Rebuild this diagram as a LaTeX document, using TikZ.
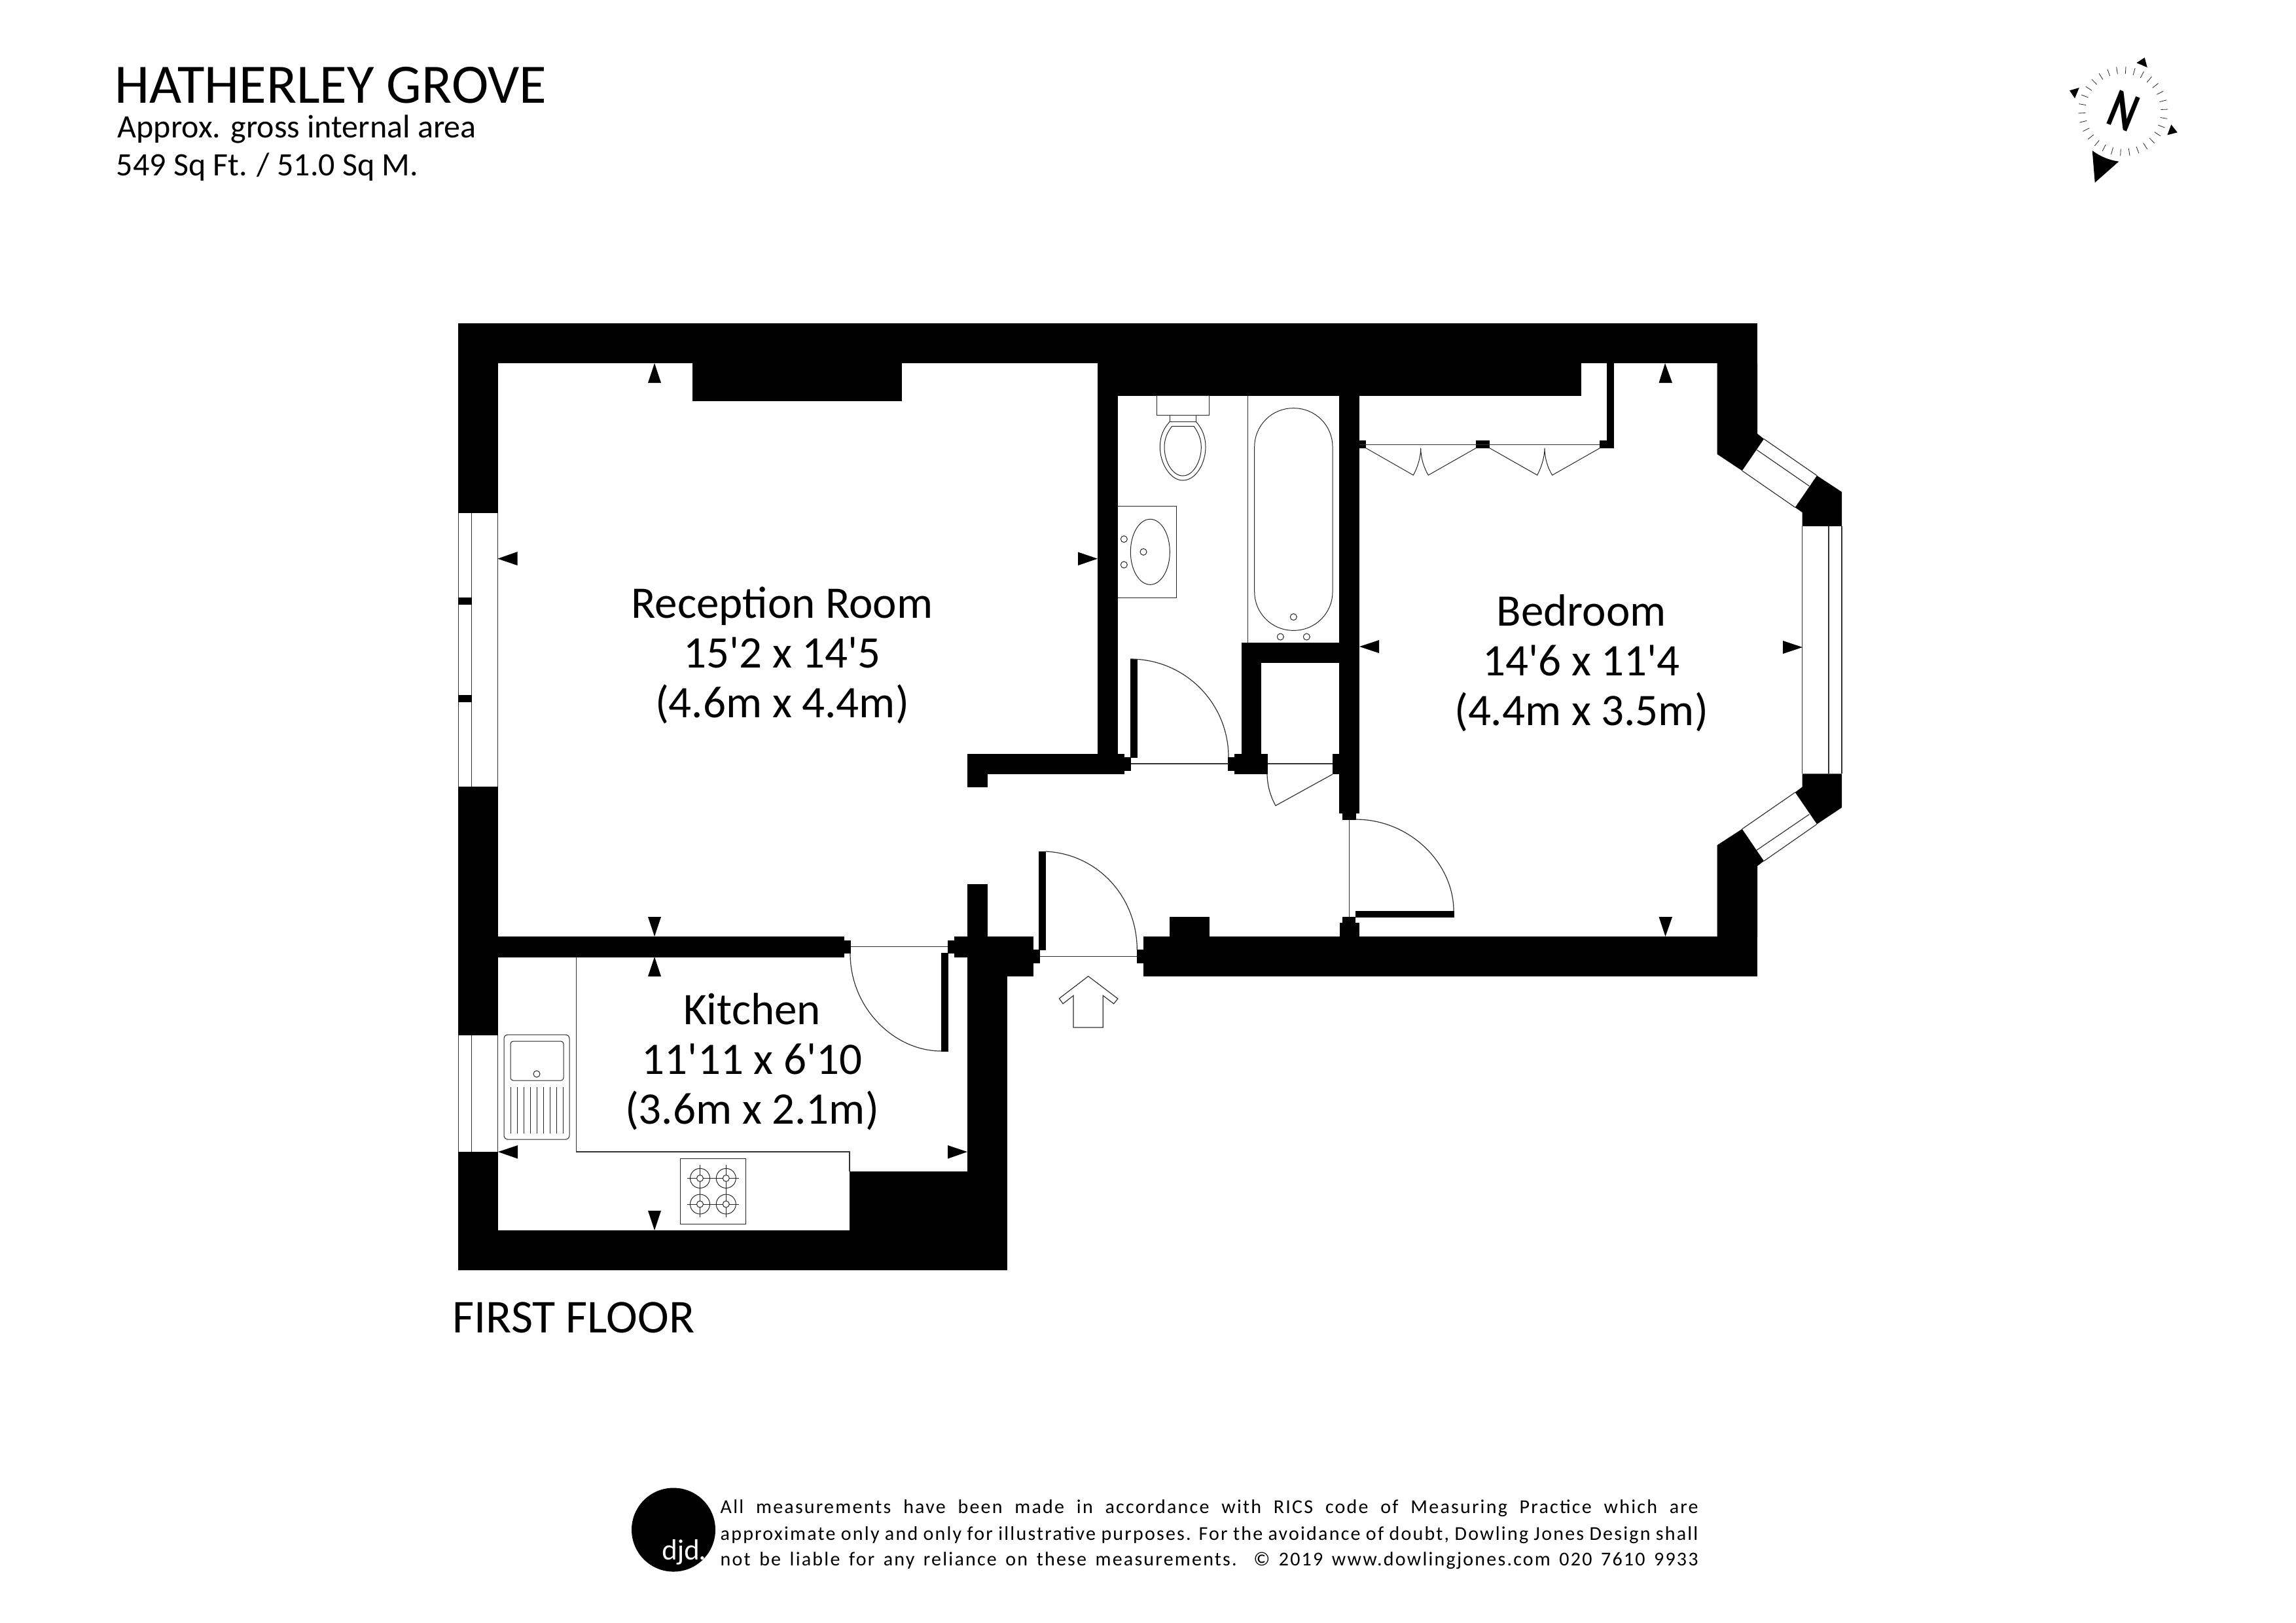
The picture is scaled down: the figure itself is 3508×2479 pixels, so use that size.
\documentclass[tikz,border=0pt]{standalone}
\usepackage{fontspec}
\usetikzlibrary{calc}
\setmainfont{Carlito}
\newfontfamily\labelfont{Carlito}
\newfontfamily\footfont[LetterSpace=7.4]{Carlito}
\newfontfamily\logofont{Lato}
\tikzset{
  wall/.style={fill=black,draw=none},
  thin line/.style={draw=black!80,line width=0.12mm,fill=none},
  fixture/.style={draw=black!85,line width=0.1mm,fill=none},
  dimtip/.style={fill=black,draw=none},
  roomlabel/.style={align=center,inner sep=0,font=\labelfont\fontsize{6.9mm}{7.6mm}\selectfont},
  footline/.style={anchor=base west,inner sep=0,font=\footfont\fontsize{3.0mm}{3.6mm}\selectfont},
}
\begin{document}
\begin{tikzpicture}[x=0.1mm,y=-0.1mm]
\useasboundingbox (0,0) rectangle (3508,2479);
\fill[white] (0,0) rectangle (3508,2479);

% ---- walls ----
\fill[wall] (700,494) rectangle (2685,555);
\fill[wall] (700,494) rectangle (761,784);
\fill[wall] (700,1202) rectangle (761,1582);
\fill[wall] (700,1760) rectangle (761,1941);
\fill[wall] (700,1880) rectangle (1539,1941);
\fill[wall] (1478,1462) rectangle (1539,1941);
\fill[wall] (1298,1790) rectangle (1478,1880);
\fill[wall] (1058,555) rectangle (1378,613);
\fill[wall] (1677,555) rectangle (2416,604.7);
\fill[wall] (1677,555) rectangle (1708,1153);
% reception stub
\fill[wall] (1477.7,1152) rectangle (1718.3,1183.3);
\fill[wall] (1477.7,1152) rectangle (1508.7,1202.7);
\fill[wall] (1718,1156.7) rectangle (1728,1178);
% kitchen wall
\fill[wall] (761,1431) rectangle (1289.6,1462.5);
\fill[wall] (1289,1436.5) rectangle (1299.5,1457);
\fill[wall] (1447.6,1436.5) rectangle (1458.5,1457);
\fill[wall] (1458,1431) rectangle (1578.5,1462.7);
\fill[wall] (1478,1351) rectangle (1509,1431.5);
\fill[wall] (1478,1462) rectangle (1578.5,1492.3);
\fill[wall] (1578,1451) rectangle (1588.5,1472);
% bottom wall
\fill[wall] (1747,1431) rectangle (2685,1492);
\fill[wall] (1737,1451) rectangle (1747.5,1472);
\fill[wall] (1786.7,1401) rectangle (1847.5,1431.5);
% bathroom / cupboard
\fill[wall] (1896.7,982.3) rectangle (2077,1013.3);
\fill[wall] (1896.7,982.3) rectangle (1927,1152.5);
\fill[wall] (1876,1157) rectangle (1886.5,1178);
\fill[wall] (1886,1152) rectangle (1937.3,1183);
\fill[wall] (2036,1152) rectangle (2047,1183);
\fill[wall] (2046,604) rectangle (2077,1243);
\fill[wall] (2050.7,1242) rectangle (2072,1253);
% bedroom door jamb
\fill[wall] (2051,1401) rectangle (2071,1431.5);
\fill[wall] (2047,1410) rectangle (2077,1431.5);
% closet
\fill[wall] (2455,555) rectangle (2465.7,684.7);
\fill[wall] (2444.3,673) rectangle (2465.7,684.7);
\fill[wall] (2255,673) rectangle (2276,684.7);
\fill[wall] (2077,673) rectangle (2087,684.7);
% bay
\fill[wall] (2623.7,555) -- (2685,555) -- (2685,662.7) -- (2695,670.7) -- (2661.7,719.3) -- (2623.7,694) -- cycle;
\fill[wall] (2623.7,1431.5) -- (2685,1431.5) -- (2685,1323.3) -- (2695,1315.7) -- (2661.7,1266.7) -- (2623.7,1291.3) -- cycle;
\fill[wall] (2776,726.7) -- (2814,751.7) -- (2814,804) -- (2753.7,804) -- (2753.7,783) -- (2742.7,775.3) -- cycle;
\fill[wall] (2753.7,1182.3) -- (2814,1182.3) -- (2814,1234) -- (2776,1259.3) -- (2742.7,1210.7) -- (2753.7,1202.3) -- cycle;

% ---- windows ----
\draw[thin line] (2695,670.7) -- (2776,726.7);
\draw[thin line] (2661.7,719.3) -- (2742.7,775.3);
\draw[thin line] (2684,687.3) -- (2764.3,742.7);
\draw[thin line] (2695,1315.7) -- (2776,1259.3);
\draw[thin line] (2661.7,1266.7) -- (2742.7,1210.7);
\draw[thin line] (2684,1299) -- (2764.3,1244.3);
\draw[thin line] (2753.7,804) -- (2753.7,1182.3);
\draw[thin line] (2794,804) -- (2794,1182.3);
\draw[thin line] (2814,804) -- (2814,1182.3);
% reception window
\draw[thin line] (700.7,784) -- (700.7,1202);
\draw[thin line] (720.3,784) -- (720.3,1202);
\draw[thin line] (760.3,784) -- (760.3,1202);
\fill[wall] (700,912.7) rectangle (721,924);
\fill[wall] (700,1062) rectangle (721,1073.3);
% kitchen window
\draw[thin line] (700.7,1582) -- (700.7,1760);
\draw[thin line] (720.3,1582) -- (720.3,1760);
\draw[thin line] (760.3,1582) -- (760.3,1760);

% ---- doors ----
\fill[wall] (1727,1007) rectangle (1737.7,1158);
\draw[thin line] (1727,1007) .. controls (1810,1007) and (1877,1074) .. (1877,1157);
\draw[thin line] (1728,1167) -- (1877,1167);
\draw[thin line] (1937,1167) -- (2036,1167);
\draw[thin line] (1936,1183) .. controls (1936.3,1200) and (1941,1217) .. (1949,1231) -- (2036,1183);
\fill[wall] (2071,1392) rectangle (2222,1402);
\draw[thin line] (2071,1252) .. controls (2154,1252) and (2221,1319) .. (2221,1392);
\draw[thin line] (2061.3,1253) -- (2061.3,1401);
\fill[wall] (1437.7,1456) rectangle (1448.8,1606.7);
\draw[thin line] (1299,1457) .. controls (1299,1540) and (1366,1606) .. (1438,1606);
\draw[thin line] (1299.5,1446.7) -- (1447.6,1446.7);
\fill[wall] (1587.3,1301) rectangle (1598.4,1452);
\draw[thin line] (1598,1301) .. controls (1677,1305) and (1737,1370) .. (1737.3,1451);
\draw[thin line] (1588.5,1461.7) -- (1737,1461.7);
% closet doors
\draw[thin line] (2077,679.3) -- (2444.3,679.3);
\draw[fixture] (2087,684.7) -- (2159.3,726) .. controls (2165,716) and (2170.7,700) .. (2170.7,684.7) .. controls (2170.7,700) and (2176,716) .. (2182.3,726) -- (2255,684.7);
\draw[fixture] (2276,684.7) -- (2348.7,726) .. controls (2354,716) and (2360,700) .. (2360,684.7) .. controls (2360,700) and (2365,716) .. (2371.7,726) -- (2444.3,684.7);
% entrance arrow
\draw[thin line] (1662.7,1491.7) -- (1707.9,1526) -- (1701.7,1533.7) -- (1685.3,1521.3) -- (1685.3,1570) -- (1640,1570) -- (1640,1521.3) -- (1624,1533.7) -- (1618.3,1525.7) -- cycle;

% ---- bathroom fixtures ----
\draw[fixture] (1767.3,604.7) rectangle (1847.3,634.3);
\draw[fixture] (1787.3,634.3) rectangle (1827.3,644.3);
\draw[fixture] (1787.3,644.3) .. controls (1777,655) and (1772.3,668) .. (1772.3,683) .. controls (1772.3,708) and (1788,734) .. (1807.3,734) .. controls (1827,734) and (1842,708) .. (1842,683) .. controls (1842,668) and (1837,655) .. (1827.3,644.3);
\draw[fixture] (1790.7,651.3) -- (1824,651.3) .. controls (1831,661) and (1835.3,671) .. (1835.3,683.3) .. controls (1835.3,705) and (1823,727) .. (1807.3,727) .. controls (1791,727) and (1779,705) .. (1779,683.3) .. controls (1779,671) and (1783,661) .. (1790.7,651.3);
\draw[fixture] (1708,773.7) -- (1797.7,773.7) -- (1797.7,913.3) -- (1708,913.3);
\draw[fixture] (1757.3,843.3) ellipse [x radius=30,y radius=50];
\draw[fixture] (1717.3,823.7) circle [radius=5];
\draw[fixture] (1717.3,863) circle [radius=5];
\draw[fixture] (1747,843.3) circle [radius=5];
\draw[thin line] (1906.7,604.7) -- (1906.7,982.3);
\draw[fixture,rounded corners=5.9mm] (1916.7,623.7) rectangle (2036,963.3);
\draw[fixture] (1976.3,942.7) circle [radius=5];
\draw[fixture] (1956.3,973) circle [radius=5];
\draw[fixture] (1996.3,973) circle [radius=5];

% ---- kitchen fixtures ----
\draw[thin line] (880.5,1462) -- (880.5,1760) -- (1298,1760) -- (1298,1790);
\draw[fixture,rounded corners=0.6mm] (770,1581) rectangle (870,1741);
\draw[fixture,rounded corners=0.4mm] (780,1591) rectangle (861,1651);
\draw[fixture] (820,1641) circle [radius=5];
\foreach \lx in {780,790,800,810,820,830,840,850,860}
  \draw[fixture] (\lx,1661) -- (\lx,1732);
\draw[fixture] (1039.7,1770.5) rectangle (1139,1870.5);
\foreach \bx/\by in {1069.5/1800.4,1109.3/1800.4,1069.5/1840,1109.3/1840}{
  \draw[fixture] (\bx,\by) circle [radius=15];
  \draw[fixture] (\bx,\by) circle [radius=5];
  \draw[fixture] (\bx-20,\by) -- (\bx-5,\by) (\bx+5,\by) -- (\bx+20,\by);
  \draw[fixture] (\bx,\by-20) -- (\bx,\by-5) (\bx,\by+5) -- (\bx,\by+20);
}

% ---- dimension tips ----
\fill[dimtip] (1000,555) -- (990,585) -- (1010,585) -- cycle;
\fill[dimtip] (760.3,853.7) -- (790.7,843) -- (790.7,864) -- cycle;
\fill[dimtip] (1677,853.7) -- (1647,843.5) -- (1647,864) -- cycle;
\fill[dimtip] (1000,1431) -- (990,1401) -- (1010,1401) -- cycle;
\fill[dimtip] (1000,1462) -- (990,1492) -- (1010,1492) -- cycle;
\fill[dimtip] (1000,1880) -- (990,1850) -- (1010,1850) -- cycle;
\fill[dimtip] (761,1760) -- (791,1750) -- (791,1770.5) -- cycle;
\fill[dimtip] (1478,1760) -- (1448,1750) -- (1448,1770.5) -- cycle;
\fill[dimtip] (2077,988) -- (2107,978) -- (2107,998) -- cycle;
\fill[dimtip] (2754,989) -- (2724,979) -- (2724,999) -- cycle;
\fill[dimtip] (2544,555) -- (2534.5,585) -- (2555,585) -- cycle;
\fill[dimtip] (2544.5,1431) -- (2534.5,1401) -- (2555,1401) -- cycle;

% ---- room labels ----
\node[roomlabel] (reception) at (1195,1001) {Reception Room\\15'2 x 14'5\\(4.6m x 4.4m)};
\node[roomlabel] (bedroom) at (2416,1013) {Bedroom\\14'6 x 11'4\\(4.4m x 3.5m)};
\node[roomlabel] (kitchen) at (1149,1622) {Kitchen\\11'11 x 6'10\\(3.6m x 2.1m)};

% ---- headings ----
\node[anchor=base west,inner sep=0,font=\fontsize{8.5mm}{9mm}\selectfont] (title) at (175,157) {HATHERLEY GROVE};
\node[anchor=base west,inner sep=0,font=\fontsize{5mm}{5.4mm}\selectfont] (area1) at (179,210) {Approx. gross internal area};
\node[anchor=base west,inner sep=0,font=\fontsize{5mm}{5.4mm}\selectfont] (area2) at (177,268) {549 Sq Ft. / 51.0 Sq M.};
\node[anchor=base west,inner sep=0,font=\fontsize{7.2mm}{8mm}\selectfont] (floor) at (691,2036) {FIRST FLOOR};

% ---- footer ----
\fill[black] (1029,2337.5) circle [radius=64];
\node[text=white,inner sep=0,font=\logofont\fontsize{4.2mm}{4.6mm}\selectfont] (djd) at (1045,2372) {djd.};
\node[footline] (foot1) at (1100,2312.7) {\makebox[149.4mm][s]{All measurements have been made in accordance with RICS code of Measuring Practice which are}};
\node[footline] (foot2) at (1100,2353) {\makebox[149.4mm][s]{approximate only and only for illustrative purposes. For the avoidance of doubt, Dowling Jones Design shall}};
\node[footline] (foot3) at (1100,2392) {\makebox[149.4mm][s]{not be liable for any reliance on these measurements. © 2019 www.dowlingjones.com 020 7610 9933}};

% ---- compass ----
\foreach \ca in {0,...,29}{
  \draw[line width=0.08mm,black!85] ($(3243.8,170)+({sin(3.5+12*\ca)*57.5},{-cos(3.5+12*\ca)*57.5})$) -- ($(3243.8,170)+({sin(3.5+12*\ca)*68.5},{-cos(3.5+12*\ca)*68.5})$);
}
\fill[black] (3196.7,230) .. controls (3210,240) and (3224,245) .. (3237.3,246.7) -- (3200.7,279) -- cycle;
\fill[black] (3264.3,96) -- (3276.7,88) -- (3280.7,103) -- cycle;
\fill[black] (3162,138.3) -- (3176.7,134) -- (3170,150.3) -- cycle;
\fill[black] (3311.3,206.3) -- (3326.7,202.3) -- (3317.3,190.3) -- cycle;
\node[inner sep=0,rotate=-22,font=\bfseries\fontsize{8.5mm}{9mm}\selectfont] (north) at (3244.3,169.5) {\scalebox{0.72}[1]{N}};
\end{tikzpicture}
\end{document}
